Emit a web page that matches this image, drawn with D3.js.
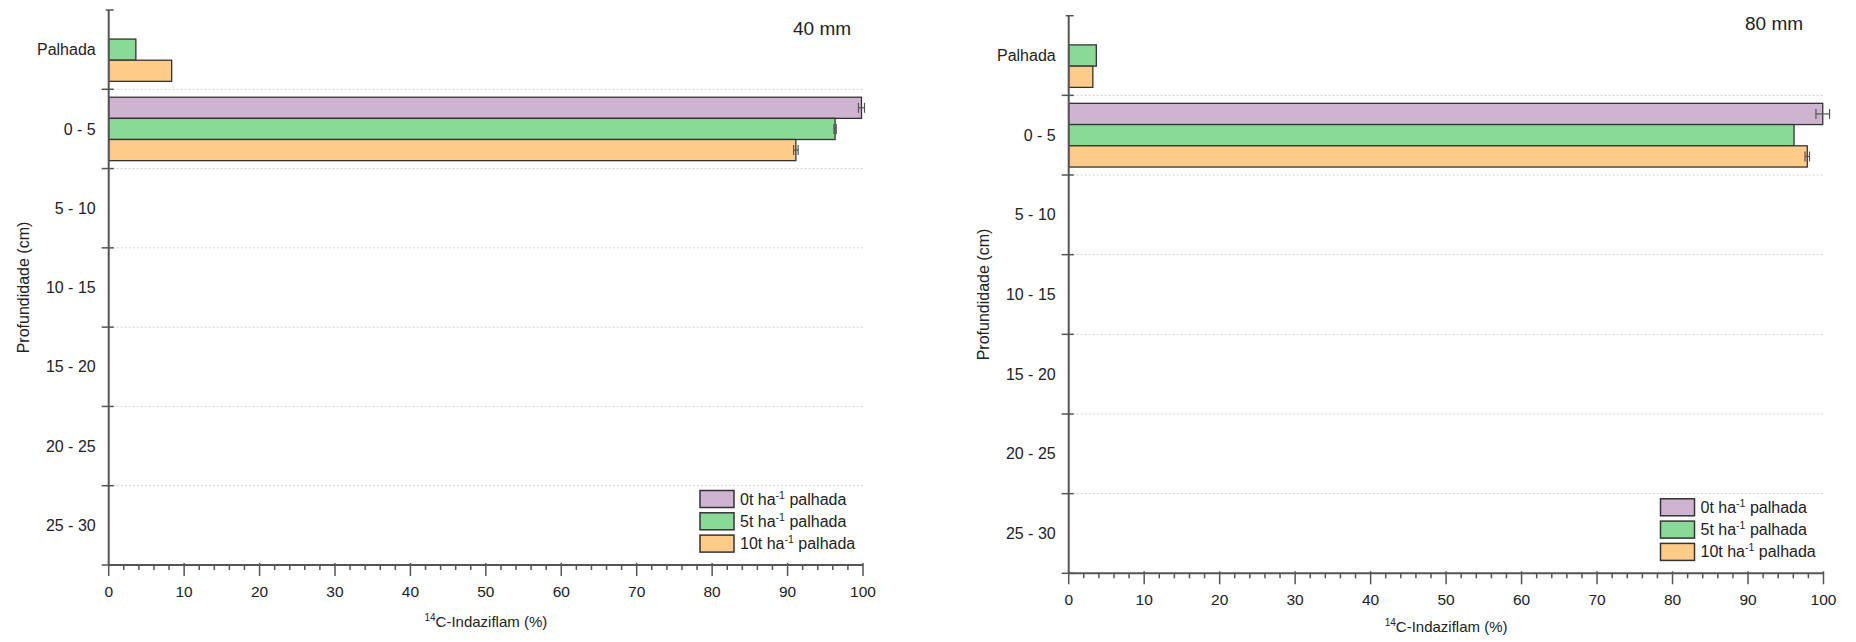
<!DOCTYPE html>
<html><head><meta charset="utf-8">
<script src="https://cdn.jsdelivr.net/npm/d3@7"></script>
<style>body{margin:0;background:#fff}svg{display:block;font-family:"Liberation Sans",Arial,sans-serif}</style>
</head><body>
<svg id="c" width="1856" height="642"></svg>
<script>
// ---- data ----
const categories = ["Palhada","0 - 5","5 - 10","10 - 15","15 - 20","20 - 25","25 - 30"];
const seriesKeys = ["0t","5t","10t"];
const seriesColors = ["#CFB4D2","#89DA97","#FECB89"];
const xTicks = [0,10,20,30,40,50,60,70,80,90,100];

const mm40_0t  = [0, 99.8, 0, 0, 0, 0, 0];
const mm40_5t  = [3.6, 96.3, 0, 0, 0, 0, 0];
const mm40_10t = [8.35, 91.1, 0, 0, 0, 0, 0];
const mm40_err_0t  = [0, 0.4, 0, 0, 0, 0, 0];
const mm40_err_5t  = [0, 0.15, 0, 0, 0, 0, 0];
const mm40_err_10t = [0, 0.3, 0, 0, 0, 0, 0];

const mm80_0t  = [0, 99.9, 0, 0, 0, 0, 0];
const mm80_5t  = [3.66, 96.1, 0, 0, 0, 0, 0];
const mm80_10t = [3.2, 97.85, 0, 0, 0, 0, 0];
const mm80_err_0t  = [0, 0.9, 0, 0, 0, 0, 0];
const mm80_err_5t  = [0, 0, 0, 0, 0, 0, 0];
const mm80_err_10t = [0, 0.3, 0, 0, 0, 0, 0];

const panels = [
  {title:"40 mm", vals:[mm40_0t,mm40_5t,mm40_10t], errs:[mm40_err_0t,mm40_err_5t,mm40_err_10t],
   x0:108.7, x1:863, y0:10, y1:565, tx:793, ty:35, xtOff:62},
  {title:"80 mm", vals:[mm80_0t,mm80_5t,mm80_10t], errs:[mm80_err_0t,mm80_err_5t,mm80_err_10t],
   x0:1068.7, x1:1823.5, y0:15.7, y1:573.3, tx:1745, ty:29.5, xtOff:59}
];

const svg = d3.select("#c");
const axisCol = "#555";

panels.forEach(p => {
  const g = svg.append("g");
  const x = d3.scaleLinear().domain([0,100]).range([p.x0,p.x1]);
  const y = d3.scaleBand().domain(categories).range([p.y0,p.y1]).padding(0);
  const bw = y.bandwidth();
  const ys = d3.scaleBand().domain(seriesKeys).range([bw*0.1, bw*0.9]).padding(0);

  // gridlines at inner band boundaries
  categories.slice(1).forEach(c => {
    g.append("line").attr("x1",p.x0).attr("x2",p.x1)
      .attr("y1",y(c)).attr("y2",y(c))
      .attr("stroke","#cfcfcf").attr("stroke-width",1).attr("stroke-dasharray","2,2");
  });

  // bars
  seriesKeys.forEach((k,si) => {
    categories.forEach((c,ci) => {
      const v = p.vals[si][ci];
      if (!(v > 0)) return;
      const by = y(c) + ys(k);
      g.append("rect").attr("x",x(0)).attr("y",by)
        .attr("width",x(v)-x(0)).attr("height",ys.bandwidth())
        .attr("fill",seriesColors[si]).attr("stroke","#333").attr("stroke-width",1.3);
      const e = p.errs[si][ci];
      if (e > 0) {
        const cy = by + ys.bandwidth()/2;
        const eg = g.append("g").attr("stroke","#555").attr("stroke-width",1.2);
        eg.append("line").attr("x1",x(v-e)).attr("x2",x(v+e)).attr("y1",cy).attr("y2",cy);
        eg.append("line").attr("x1",x(v-e)).attr("x2",x(v-e)).attr("y1",cy-5).attr("y2",cy+5);
        eg.append("line").attr("x1",x(v+e)).attr("x2",x(v+e)).attr("y1",cy-5).attr("y2",cy+5);
      }
    });
  });

  // y axis
  g.append("line").attr("x1",p.x0).attr("x2",p.x0).attr("y1",p.y0).attr("y2",p.y1)
    .attr("stroke",axisCol).attr("stroke-width",2);
  const bounds = categories.map(c=>y(c)).concat([p.y1]);
  bounds.forEach((b,i) => {
    g.append("line").attr("x1",p.x0-(i===0?3:7)).attr("x2",p.x0+5).attr("y1",b).attr("y2",b)
      .attr("stroke",axisCol).attr("stroke-width",1.5);
  });
  categories.forEach(c => {
    g.append("text").attr("x",p.x0-13).attr("y",y(c)+bw/2).attr("dy","0.35em")
      .attr("text-anchor","end").attr("font-size",16).attr("fill","#222").text(c);
  });
  g.append("text").attr("transform",`translate(${p.x0-80},${(p.y0+p.y1)/2}) rotate(-90)`)
    .attr("text-anchor","middle").attr("font-size",16).attr("fill","#222").text("Profundidade (cm)");

  // x axis
  g.append("line").attr("x1",p.x0).attr("x2",p.x1).attr("y1",p.y1).attr("y2",p.y1)
    .attr("stroke",axisCol).attr("stroke-width",2);
  d3.range(0,101,2).forEach(t => {
    const major = t % 10 === 0;
    g.append("line").attr("x1",x(t)).attr("x2",x(t))
      .attr("y1",p.y1-(major?2:0)).attr("y2",p.y1+(major?11:5))
      .attr("stroke",axisCol).attr("stroke-width",1.5);
  });
  xTicks.forEach(t => {
    g.append("text").attr("x",x(t)).attr("y",p.y1+32).attr("text-anchor","middle")
      .attr("font-size",15.5).attr("fill","#222").text(t);
  });
  const xt = g.append("text").attr("x",(p.x0+p.x1)/2).attr("y",p.y1+p.xtOff)
    .attr("text-anchor","middle").attr("font-size",15).attr("fill","#222");
  xt.append("tspan").attr("font-size",10).attr("dy",-6).text("14");
  xt.append("tspan").attr("dy",6).text("C-Indaziflam (%)");

  // title
  g.append("text").attr("x",p.tx).attr("y",p.ty).attr("font-size",19).attr("fill","#222").text(p.title);

  // legend
  const lx = p.x1 - 163, ly = p.y1 - 74.5;
  const labels = ["0t","5t","10t"];
  seriesKeys.forEach((k,i) => {
    const yy = ly + i*22.3;
    g.append("rect").attr("x",lx).attr("y",yy).attr("width",34).attr("height",17)
      .attr("fill",seriesColors[i]).attr("stroke","#333").attr("stroke-width",1.5);
    const t = g.append("text").attr("x",lx+40).attr("y",yy+14).attr("font-size",16).attr("fill","#222");
    t.append("tspan").text(labels[i] + " ha");
    t.append("tspan").attr("font-size",10.5).attr("dy",-6).text("-1");
    t.append("tspan").attr("dy",6).text(" palhada");
  });
});
</script>
</body></html>
